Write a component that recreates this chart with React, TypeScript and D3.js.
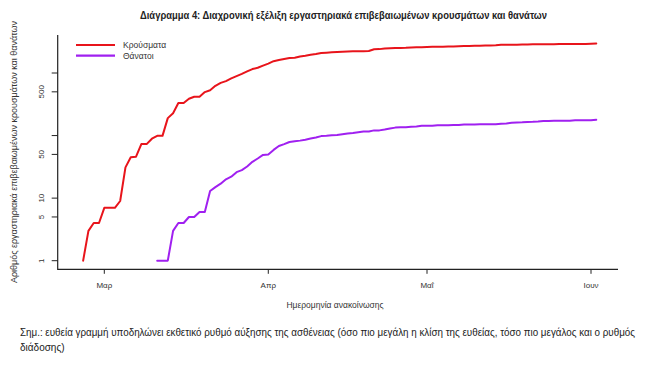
import React from "react";
import * as d3 from "d3";

const title = "Διάγραμμα 4: Διαχρονική εξέλιξη εργαστηριακά επιβεβαιωμένων κρουσμάτων και θανάτων";
const yAxisTitle = "Αριθμός εργαστηριακά επιβεβαιωμένων κρουσμάτων και θανάτων";
const xAxisTitle = "Ημερομηνία ανακοίνωσης";
const noteLines = [
  "Σημ.: ευθεία γραμμή υποδηλώνει εκθετικό ρυθμό αύξησης της ασθένειας (όσο πιο μεγάλη η κλίση της ευθείας, τόσο πιο μεγάλος και ο ρυθμός",
  "διάδοσης)",
];
const seriesNames = ["Κρούσματα", "Θάνατοι"];
const seriesColors = ["#e8141b", "#a020f0"];

const casesStart = "2020-02-26";
const casesValues = [
  1, 3, 4, 4,
  7, 7, 7, 9, 31, 45, 46, 73, 73, 89, 99, 99, 190, 228, 331, 331, 387, 418, 418, 495, 530, 624, 695, 743, 821, 892, 966, 1061, 1156, 1212, 1314,
  1415, 1544, 1613, 1673, 1735, 1755, 1832, 1884, 1955, 2011, 2081, 2114, 2145, 2170, 2192, 2207, 2224, 2235, 2235, 2245, 2401, 2408, 2463, 2490, 2506, 2517, 2534, 2566, 2576, 2591,
  2612, 2620, 2626, 2632, 2642, 2663, 2678, 2691, 2710, 2716, 2726, 2744, 2760, 2770, 2819, 2834, 2836, 2840, 2850, 2853, 2873, 2876, 2878, 2882, 2892, 2903, 2906, 2909, 2915, 2917, 2918,
  2937, 2952,
];
const deathsStart = "2020-03-11";
const deathsValues = [
  1, 1, 1, 3, 4, 4, 5, 5, 6, 6, 13, 15, 17, 20, 22, 26, 28, 32, 38, 43, 49,
  50, 59, 68, 73, 79, 81, 83, 86, 90, 93, 98, 99, 101, 102, 105, 108, 110, 113, 116, 116, 121, 121, 125, 130, 134, 136, 136, 138, 140, 143,
  144, 144, 146, 146, 146, 147, 148, 150, 150, 150, 151, 151, 151, 152, 155, 156, 160, 162, 163, 165, 166, 168, 171, 171, 172, 173, 173, 173, 175, 175, 175,
  175, 179,
];
const xTickDates = ["2020-03-01", "2020-04-01", "2020-05-01", "2020-06-01"];
const xTickLabels = ["Μαρ", "Απρ", "Μαΐ", "Ιουν"];
const yTicks = [1, 5, 10, 50, 100, 500, 1000];
const yTickLabels = ["1", "5", "10", "50", "", "500", ""];

const parse = d3.utcParse("%Y-%m-%d");

export default function App() {
  const W = 649, H = 375;
  const frameLeft = 57.7, frameRight = 618, frameTop = 35, frameBottom = 269.3;
  const x = d3.scaleUtc()
    .domain([parse(xTickDates[0])!, parse(xTickDates[3])!])
    .range([104.3, 591]);
  const y = d3.scaleLog().domain([1, 1000]).range([260.7, 73]);

  const mk = (start: string, vals: number[]) => {
    const s = parse(start)!;
    return vals.map((v, i) => ({ d: d3.utcDay.offset(s, i), v }));
  };
  const series = [mk(casesStart, casesValues), mk(deathsStart, deathsValues)];
  const line = d3.line<{ d: Date; v: number }>().x((p) => x(p.d)).y((p) => y(p.v));

  const font = "'Liberation Sans', Arial, sans-serif";
  const axisCol = "#333";

  return (
    <svg width={W} height={H} style={{ position: "absolute", left: 0, top: 0, background: "#fff" }} fontFamily={font}>
      <text x={140} y={19} fontSize={11} fontWeight="bold" fill="#222" textLength={407} lengthAdjust="spacingAndGlyphs">{title}</text>

      {/* frame */}
      <path d={`M${frameLeft},${frameTop}V${frameBottom}H${frameRight}`} fill="none" stroke="#222" strokeWidth={1.2} />

      {/* y ticks */}
      {yTicks.map((t, i) => (
        <g key={t}>
          <line x1={frameLeft - 6} x2={frameLeft} y1={y(t)} y2={y(t)} stroke="#222" strokeWidth={1} />
          {yTickLabels[i] && (
            <text transform={`translate(${44},${y(t)}) rotate(-90)`} textAnchor="middle" fontSize={8} fill={axisCol}>{yTickLabels[i]}</text>
          )}
        </g>
      ))}
      <text transform={`translate(${17},${152}) rotate(-90)`} textAnchor="middle" fontSize={8.5} fill={axisCol} textLength={262} lengthAdjust="spacingAndGlyphs">{yAxisTitle}</text>

      {/* x ticks */}
      {xTickDates.map((d, i) => (
        <g key={d}>
          <line x1={x(parse(d)!)} x2={x(parse(d)!)} y1={frameBottom} y2={frameBottom + 4.5} stroke="#222" strokeWidth={1} />
          <text x={x(parse(d)!)} y={288} textAnchor="middle" fontSize={8} fill={axisCol}>{xTickLabels[i]}</text>
        </g>
      ))}
      <text x={335} y={308} textAnchor="middle" fontSize={8.5} fill={axisCol}>{xAxisTitle}</text>

      {/* lines */}
      {series.map((s, i) => (
        <path key={i} d={line(s)!} fill="none" stroke={seriesColors[i]} strokeWidth={2} strokeLinejoin="round" strokeLinecap="round" />
      ))}

      {/* legend */}
      {seriesNames.map((n, i) => (
        <g key={n}>
          <line x1={76} x2={115} y1={45 + i * 10.7} y2={45 + i * 10.7} stroke={seriesColors[i]} strokeWidth={2.2} />
          <text x={123} y={48 + i * 10.7} fontSize={8.5} fill={axisCol}>{n}</text>
        </g>
      ))}

      {/* note */}
      <text x={20} y={336} fontSize={10} fill="#222" textLength={615} lengthAdjust="spacingAndGlyphs">{noteLines[0]}</text>
      <text x={20} y={351} fontSize={10} fill="#222">{noteLines[1]}</text>
    </svg>
  );
}
